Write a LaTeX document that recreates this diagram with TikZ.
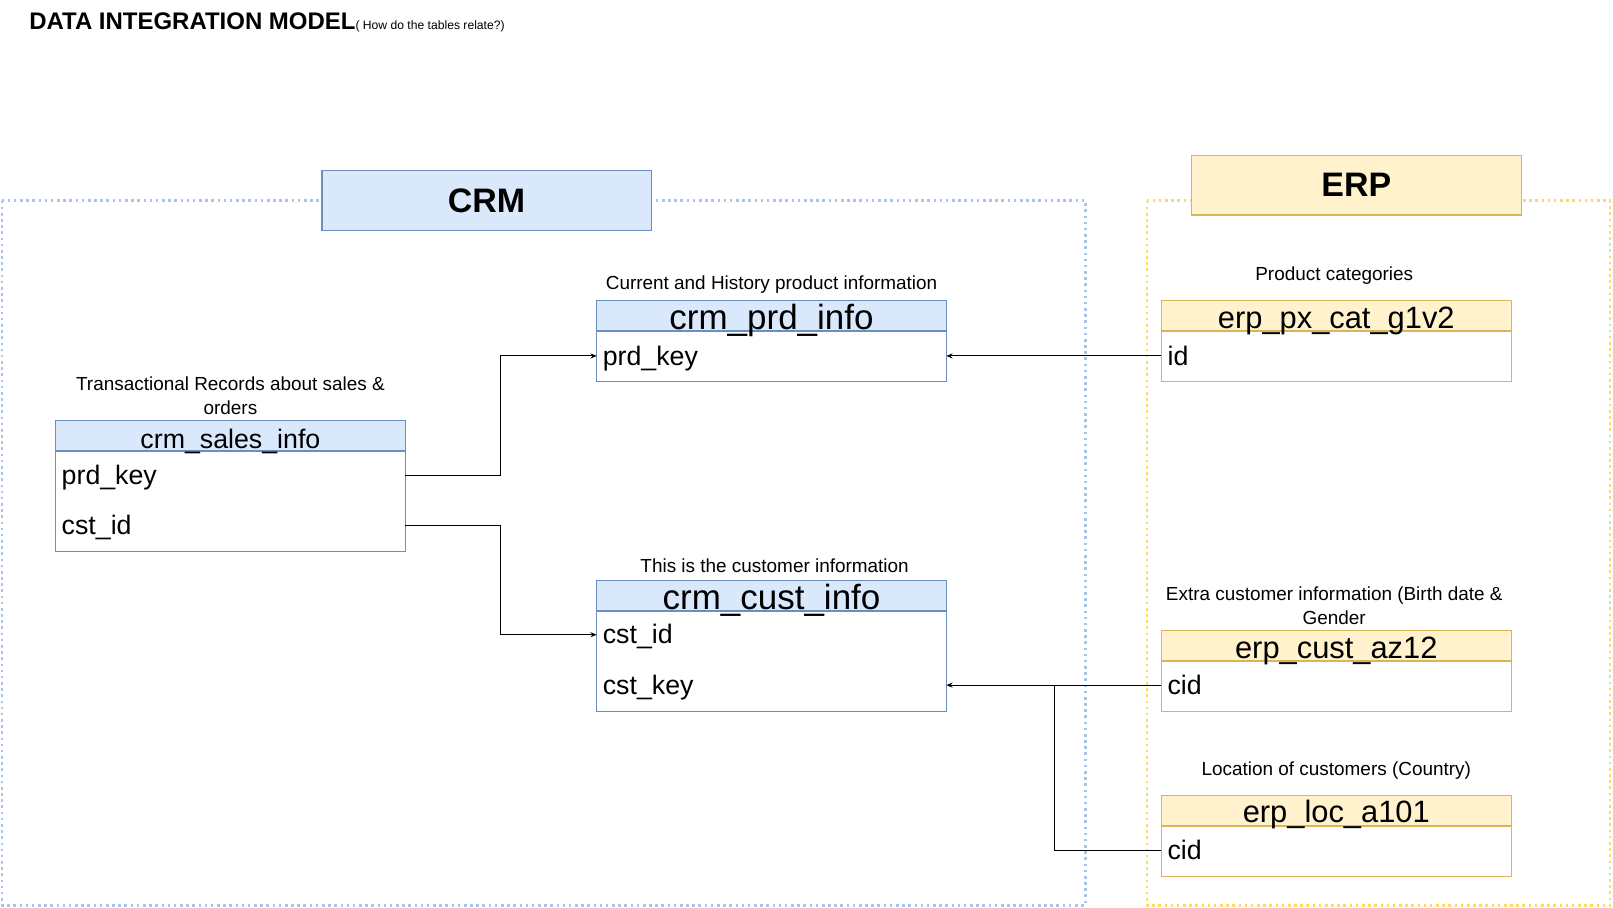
\documentclass[tikz,border=0pt]{standalone}
\usepackage{fontspec}
\setmainfont{Liberation Sans}
\usetikzlibrary{arrows.meta,positioning}

\definecolor{crmfill}{HTML}{DAE8FC}
\definecolor{crmline}{HTML}{6C8EBF}
\definecolor{crmdots}{HTML}{A9C4EB}
\definecolor{erpfill}{HTML}{FFF2CC}
\definecolor{erpline}{HTML}{D6B656}
\definecolor{erpdots}{HTML}{FFD966}

\begin{document}
\begin{tikzpicture}[
    x = 1pt, y = -1pt, % pixel grid, y going down
    > = {Stealth[length=6pt,width=5pt]}, % arrow head style
    line width = 1pt, % line style
    node distance = 0pt % tables stack without gap
    ]

    \tikzset{
    crmhead/.style = {draw = crmline, fill = crmfill, minimum width = 340pt, minimum height = 29pt, inner sep = 0pt},
    erphead/.style = {draw = erpline, fill = erpfill, minimum width = 340pt, minimum height = 29pt, inner sep = 0pt},
    crmbody/.style = {draw = crmline, fill = white, minimum width = 340pt, inner sep = 0pt},
    erpbody/.style = {draw = erpline, fill = white, minimum width = 340pt, inner sep = 0pt},
    headtext/.style = {inner sep = 0pt, yshift = -2pt, font = \fontsize{#1}{#1}\selectfont, text height = {0.905*#1}, text depth = {0.212*#1}},
    row/.style = {text width = 328pt, inner xsep = 6pt, inner ysep = 0pt, outer sep = 0pt, align = left, text height = 23.5pt, text depth = 5.5pt, font = \fontsize{26}{30}\selectfont},
    caption/.style = {align = center, inner sep = 0pt, font = \fontsize{18.4}{23}\selectfont},
    group/.style = {line width = 2.5pt, dash pattern = on 2.5pt off 3.5pt},
    bigbox/.style = {minimum height = 58pt, font = \fontsize{33}{36}\selectfont\bfseries}
    }

    \useasboundingbox (0,0) rectangle (1568,882);

    % title
    \node[anchor = base west, inner sep = 0pt] (title) at (28,29) {\fontsize{23.3}{26}\selectfont\bfseries DATA INTEGRATION MODEL\fontsize{11.8}{13}\selectfont\mdseries( How do the tables relate?)};

    % source systems
    \draw[group, crmdots] (2,195) rectangle (1055,880);
    \draw[group, erpdots] (1115,195) rectangle (1565,880);
    \node[bigbox, draw = crmline, fill = crmfill, minimum width = 320pt] (crm) at (473,195) {CRM};
    \node[bigbox, draw = erpline, fill = erpfill, minimum width = 321pt] (erp) at (1318.5,180) {ERP};

    % crm_sales_info
    \node[caption] (salesC) at (224,384.5) {Transactional Records about sales \&\\orders};
    \node[crmhead] (salesH) at (224,423.5) {};
    \node[crmbody, minimum height = 97pt, below = of salesH] (salesB) {};
    \node[headtext = 26, yshift = -1pt] (salesT) at (salesH) {crm\_sales\_info};
    \node[row] (salesPrd) at (224,462) {prd\_key};
    \node[row] (salesCst) at (224,511) {cst\_id};

    % crm_prd_info
    \node[caption] (prdC) at (750,277) {Current and History product information};
    \node[crmhead] (prdH) at (750,306.5) {};
    \node[crmbody, minimum height = 49pt, below = of prdH] (prdB) {};
    \node[headtext = 34] (prdT) at (prdH) {crm\_prd\_info};
    \node[row] (prdKey) at (750,346) {prd\_key};

    % crm_cust_info
    \node[caption] (custC) at (753,550) {This is the customer information};
    \node[crmhead] (custH) at (750,579) {};
    \node[crmbody, minimum height = 97pt, below = of custH] (custB) {};
    \node[headtext = 34] (custT) at (custH) {crm\_cust\_info};
    \node[row] (custCst) at (750,617) {cst\_id};
    \node[row] (custKey) at (750,666) {cst\_key};

    % erp_px_cat_g1v2
    \node[caption] (pxC) at (1297,268) {Product categories};
    \node[erphead] (pxH) at (1299,306.5) {};
    \node[erpbody, minimum height = 49pt, below = of pxH] (pxB) {};
    \node[headtext = 30] (pxT) at (pxH) {erp\_px\_cat\_g1v2};
    \node[row] (pxId) at (1299,346) {id};

    % erp_cust_az12
    \node[caption] (azC) at (1297,589) {Extra customer information (Birth date \&\\Gender};
    \node[erphead] (azH) at (1299,627.5) {};
    \node[erpbody, minimum height = 49pt, below = of azH] (azB) {};
    \node[headtext = 30] (azT) at (azH) {erp\_cust\_az12};
    \node[row] (azCid) at (1299,666) {cid};

    % erp_loc_a101
    \node[caption] (locC) at (1299,749) {Location of customers (Country)};
    \node[erphead] (locH) at (1299,787.5) {};
    \node[erpbody, minimum height = 49pt, below = of locH] (locB) {};
    \node[headtext = 30] (locT) at (locH) {erp\_loc\_a101};
    \node[row] (locCid) at (1299,827) {cid};

    % relations
    \coordinate (join) at (1025,666);
    \draw[->] (salesPrd.east) -- ++(93,0) |- (prdKey.west);
    \draw[->] (salesCst.east) -- ++(93,0) |- (custCst.west);
    \draw[->] (pxId.west) -- (prdKey.east);
    \draw[->] (azCid.west) -- (custKey.east);
    \draw (locCid.west) -| (join);
\end{tikzpicture}
\end{document}
